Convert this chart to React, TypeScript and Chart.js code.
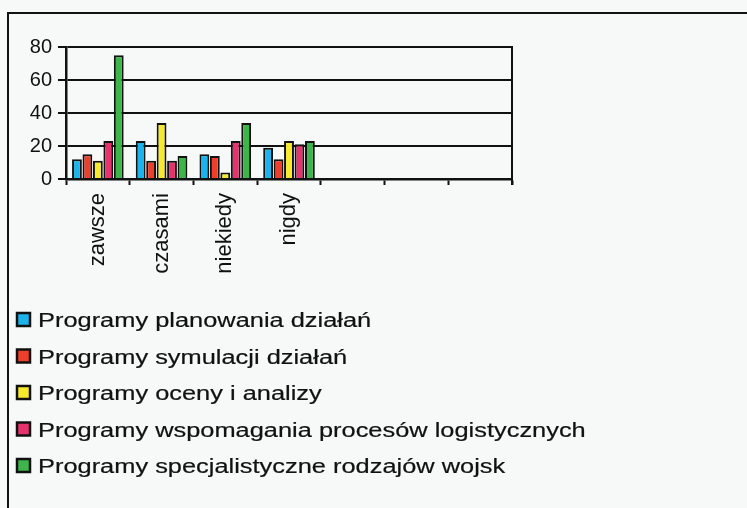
import React, { useEffect, useRef } from "react";
import { Chart, registerables } from "chart.js";

Chart.register(...registerables);

const categories = ["zawsze", "czasami", "niekiedy", "nigdy", "", "", ""];
const seriesNames = [
  "Programy planowania działań",
  "Programy symulacji działań",
  "Programy oceny i analizy",
  "Programy wspomagania procesów logistycznych",
  "Programy specjalistyczne rodzajów wojsk",
];
const planowania = [12, 23, 15, 19, null, null, null];
const symulacji = [15, 11, 14, 12, null, null, null];
const oceny = [11, 34, 4, 23, null, null, null];
const logistyczne = [23, 11, 23, 21, null, null, null];
const specjalistyczne = [75, 14, 34, 23, null, null, null];
const yTicks = [0, 20, 40, 60, 80];

const colors = ["#1cb2ea", "#ef3f2b", "#f7ea2c", "#e6336d", "#3db54b"];

const legendPlugin = {
  id: "customLegend",
  afterDraw(chart: any) {
    const ctx = chart.ctx;
    const centers = [320, 356.5, 393, 429.5, 466];
    chart.data.datasets.forEach((ds: any, i: number) => {
      const cy = centers[i];
      ctx.save();
      ctx.fillStyle = ds.backgroundColor;
      ctx.fillRect(17, cy - 7, 13, 13);
      ctx.lineWidth = 2.5;
      ctx.strokeStyle = "#111";
      ctx.strokeRect(17, cy - 7, 13, 13);
      ctx.fillStyle = "#111";
      ctx.strokeStyle = "#111";
      ctx.lineWidth = 0.2;
      ctx.font = "20px 'Liberation Sans', Arial, sans-serif";
      ctx.textBaseline = "alphabetic";
      ctx.translate(38, cy + 7);
      ctx.scale(1.27, 1);
      ctx.fillText(ds.label, 0, 0);
      ctx.strokeText(ds.label, 0, 0);
      ctx.restore();
    });
    // right frame of plot area
    const a = chart.chartArea;
    ctx.save();
    ctx.strokeStyle = "#111";
    ctx.lineWidth = 2;
    ctx.beginPath();
    ctx.moveTo(a.right, a.top - 1);
    ctx.lineTo(a.right, a.bottom + 6);
    ctx.stroke();
    ctx.restore();
  },
};

export default function App() {
  const ref = useRef<HTMLCanvasElement>(null);
  useEffect(() => {
    if (!ref.current) return;
    const values = [planowania, symulacji, oceny, logistyczne, specjalistyczne];
    const chart = new Chart(ref.current, {
      type: "bar",
      data: {
        labels: categories,
        datasets: values.map((d, i) => ({
          label: seriesNames[i],
          data: d,
          backgroundColor: colors[i],
          borderColor: "#111",
          borderWidth: 2,
          categoryPercentage: 0.82,
          barPercentage: 0.94,
        })),
      },
      options: {
        responsive: false,
        animation: false,
        layout: { padding: { left: 0, top: 47, right: 235, bottom: 0 } },
        plugins: { legend: { display: false }, tooltip: { enabled: false } },
        scales: {
          x: {
            afterFit: (s: any) => {
              s.height = 329;
            },
            grid: {
              display: true,
              drawOnChartArea: false,
              drawTicks: true,
              tickLength: 6,
              tickColor: "#111",
              tickWidth: 2,
              offset: true,
            },
            border: { display: true, color: "#111", width: 2.5 },
            ticks: {
              minRotation: 90,
              maxRotation: 90,
              autoSkip: false,
              padding: 8,
              color: "#111",
              font: { family: "'Liberation Sans', Arial, sans-serif", size: 22 },
            },
          },
          y: {
            min: 0,
            max: 80,
            afterFit: (s: any) => {
              s.width = 66;
            },
            afterBuildTicks: (s: any) => {
              s.ticks = yTicks.map((v) => ({ value: v }));
            },
            grid: {
              color: "#111",
              lineWidth: 2,
              tickLength: 8,
              tickColor: "#111",
              tickWidth: 2,
            },
            border: { display: true, color: "#111", width: 2.5 },
            ticks: {
              padding: 6,
              color: "#111",
              font: { family: "'Liberation Sans', Arial, sans-serif", size: 20 },
            },
          },
        },
      },
      plugins: [legendPlugin],
    });
    return () => chart.destroy();
  }, []);
  return (
    <div
      style={{
        position: "absolute",
        left: 0,
        top: 0,
        width: 747,
        height: 508,
        overflow: "hidden",
        background: "#f7f8f8",
      }}
    >
      <div
        style={{
          position: "absolute",
          left: 7,
          top: 12,
          width: 900,
          height: 700,
          borderLeft: "2px solid #111",
          borderTop: "2px solid #111",
        }}
      />
      <canvas
        ref={ref}
        width={747}
        height={508}
        style={{ position: "absolute", left: 0, top: 0, display: "block" }}
      />
    </div>
  );
}
